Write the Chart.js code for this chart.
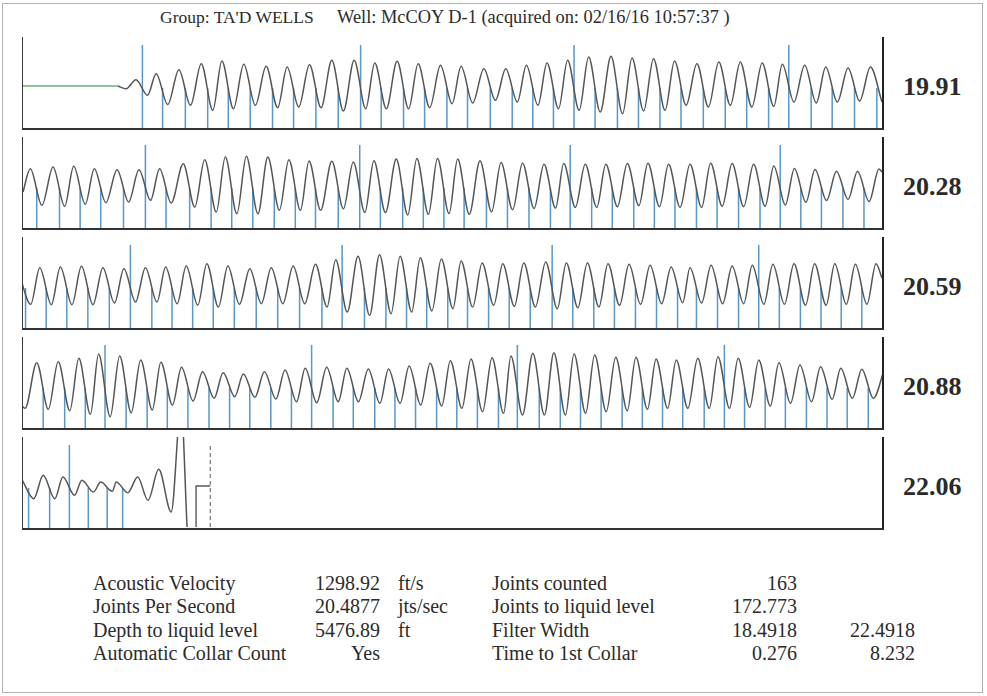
<!DOCTYPE html>
<html>
<head>
<meta charset="utf-8">
<script src="https://cdn.jsdelivr.net/npm/chart.js@4.4.1/dist/chart.umd.min.js"></script>
<style>
body { margin: 0; width: 987px; height: 696px; background: #fff; position: relative; overflow: hidden;
       font-family: "Liberation Serif", "Times New Roman", serif; color: #2b2b2b; }
.frame { position: absolute; left: 2px; top: 3px; width: 981px; height: 690px; border: 1px solid #b0b0b0; box-sizing: border-box; }
.strip { position: absolute; left: 22px; width: 859px; height: 91px;
         border-left: 1.5px solid #3a3a3a; border-right: 2.5px solid #222; border-bottom: 2.5px solid #333; }
.strip canvas { display: block; }
.rate { position: absolute; left: 903px; font-weight: bold; font-size: 26px; line-height: 30px; color: #2a2a2a; }
.head { position: absolute; top: 7px; font-size: 17.5px; line-height: 20px; white-space: pre; }
.col { position: absolute; top: 572px; font-size: 20px; line-height: 23.3px; white-space: pre; }
.r { text-align: right; }
</style>
</head>
<body>
<div class="frame"></div>
<div class="head" style="left:160px">Group: TA'D WELLS</div>
<div class="head" style="left:337px; font-size:18.4px">Well: McCOY D-1 (acquired on: 02/16/16 10:57:37 )</div>
<div id="strips"></div>

<div class="col" style="left:93px">Acoustic Velocity<br>Joints Per Second<br>Depth to liquid level<br>Automatic Collar Count</div>
<div class="col r" style="right:607px">1298.92<br>20.4877<br>5476.89<br>Yes</div>
<div class="col" style="left:398px">ft/s<br>jts/sec<br>ft<br>&nbsp;</div>
<div class="col" style="left:492px">Joints counted<br>Joints to liquid level<br>Filter Width<br>Time to 1st Collar</div>
<div class="col r" style="right:190px">163<br>172.773<br>18.4918<br>0.276</div>
<div class="col r" style="right:72px">&nbsp;<br>&nbsp;<br>22.4918<br>8.232</div>

<script>
// each strip = 2 s of the acoustic trace, collar times in seconds
const stripStart = [0, 2, 4, 6, 8];
const stripSpan = 2;
const jointsPerSec = ["19.91", "20.28", "20.59", "20.88", "22.06"];

const collars1 = [0.278, 0.325, 0.378, 0.430, 0.478, 0.529, 0.581, 0.630, 0.682, 0.734,
  0.786, 0.834, 0.886, 0.935, 0.987, 1.035, 1.088, 1.139, 1.187, 1.235, 1.283, 1.332, 1.384,
  1.433, 1.483, 1.532, 1.584, 1.635, 1.685, 1.736, 1.783, 1.835, 1.884, 1.936, 1.988];
const peaks1 = [6.3, 12.3, 16.3, 22.3, 25, 21.7, 19.7, 19, 21.3, 25.7,
  25.7, 23, 24.7, 22.3, 20.7, 19.7, 17.3, 17.3, 20.7, 23, 25.7, 29, 29.7, 28, 27.3,
  25, 22.3, 24, 24, 23, 21.7, 20.7, 19, 18, 19];
const troughs1 = [9.3, 18.5, 19.3, 24.3, 22.7, 19.3, 21.7, 21, 21.7, 25,
  22.7, 22.7, 22.7, 21.7, 17.7, 17, 14.3, 16, 19.3, 22.7, 24.3, 26, 27.7, 25, 24.3,
  19.3, 21, 19.3, 21, 20.3, 16, 17, 16, 15, 16];
const tall1 = [0, 10, 20, 30];

const collars2 = [2.032, 2.085, 2.133, 2.181, 2.234, 2.285, 2.333, 2.388, 2.438, 2.486,
  2.535, 2.585, 2.634, 2.681, 2.734, 2.784, 2.832, 2.884, 2.932, 2.980, 3.027, 3.079, 3.128,
  3.178, 3.228, 3.274, 3.324, 3.372, 3.422, 3.470, 3.518, 3.568, 3.616, 3.666, 3.716, 3.763,
  3.811, 3.859, 3.909, 3.958];
const peaks2 = [17.3, 19, 19.7, 17.3, 16.3, 16.3, 17.3, 22.3, 26.3, 29, 29.7, 29, 26.3, 25, 24.7,
  24.1, 25.2, 26.9, 27.6, 27.6, 26.9, 25.2, 23.4, 22.8, 21.7, 22.4, 21.7, 21.7, 22.4, 22.8,
  21.7, 21.7, 22.8, 22.4, 21.7, 20, 17.6, 16.6, 14.8, 14.8];
const troughs2 = [19.3, 20.3, 18.3, 16.7, 16, 14.3, 17, 21, 26, 27.7, 27.7, 24.3, 24.3, 24.3, 22.7,
  26.6, 26.6, 29, 28.3, 27.6, 28.3, 25.9, 23.8, 22.4, 22.1, 21.4, 21.4, 20.7, 19.7, 20.7,
  21.4, 21.4, 20.3, 20.7, 20.3, 19, 16.2, 14.5, 13.4, 15.5];
const tall2 = [5, 15, 25, 35];

const collars3 = [4.006, 4.054, 4.102, 4.151, 4.201, 4.250, 4.300, 4.347, 4.395, 4.443,
  4.492, 4.543, 4.593, 4.644, 4.696, 4.743, 4.795, 4.845, 4.893, 4.940, 4.989, 5.035, 5.084,
  5.132, 5.181, 5.232, 5.280, 5.329, 5.377, 5.426, 5.475, 5.524, 5.568, 5.617, 5.666, 5.713,
  5.761, 5.810, 5.858, 5.905, 5.953];
const peaks3 = [12, 18.3, 19, 19.7, 18.3, 17.3, 18.3, 19, 20, 22.3, 20, 17.3, 18.3, 20, 21.7,
  26.3, 29.7, 31.3, 29.7, 28.3, 27, 25, 23, 22.3, 23, 24, 23, 23, 22.3, 21.7, 20.7, 19,
  18.3, 20.7, 20, 20.7, 21.7, 22.3, 22.3, 22.3, 21.7];
const troughs3 = [18.3, 18.7, 18.7, 18.7, 17, 16, 16, 17.7, 19.3, 21, 18.3, 17.7, 17.7, 17.7, 21,
  26, 29.3, 27.7, 26, 25, 22.7, 21, 19.3, 20.3, 21, 22.7, 21.7, 21, 19.3, 18.3, 17.7, 16.7,
  17, 17.7, 17.7, 18.3, 18.3, 19.3, 19.3, 18.3, 18.3];
const tall3 = [5, 15, 25, 35];

const collars4 = [6.047, 6.097, 6.145, 6.191, 6.240, 6.289, 6.336, 6.384, 6.433, 6.481,
  6.528, 6.577, 6.625, 6.672, 6.722, 6.769, 6.819, 6.866, 6.914, 6.963, 7.010, 7.058, 7.107,
  7.151, 7.202, 7.251, 7.298, 7.346, 7.395, 7.442, 7.489, 7.536, 7.586, 7.633, 7.680, 7.728,
  7.775, 7.824, 7.872, 7.919, 7.968];
const peaks4 = [23.3, 24.3, 27.7, 32, 30, 26, 23.7, 18.7, 14.3, 13.3, 12, 14.3, 16, 17.7, 18.7,
  17.7, 17, 17, 20, 22.7, 25.3, 27, 28.3, 30, 32.7, 33.3, 32, 31, 28.7, 28.7, 27, 26, 27.7,
  29.3, 27.7, 26, 23.3, 21, 19.3, 17.7, 16.7];
const troughs4 = [23.3, 24.7, 28.3, 30.7, 26.7, 24, 19, 15, 12.3, 10.7, 11.3, 13, 15.7, 16.7, 15.7,
  15.7, 17.3, 17.3, 19, 20, 22.3, 25.7, 27.3, 29, 29, 29, 27.3, 25.7, 24.7, 23.3, 22.3, 22.3,
  22.3, 22.3, 21.3, 20, 17.3, 15.7, 13.3, 12.3, 12.3];
const tall4 = [3, 13, 23, 33];

const collars5 = [8.013, 8.062, 8.108, 8.152, 8.196, 8.232];
const peaks5 = [6, 10.7, 9, 5.7, 4, 4];
const troughs5 = [12.7, 12.7, 9.3, 6, 5.3, 6.7];
const tall5 = [2];

// irregular bits at the strip edges: [time, amplitude]
const idleStart = [[0, 0], [0.221, 0]];
const lead1 = [[0.221, 0], [0.240, -2.7]];
const lead2 = [[2.0, -6]];
const tail2 = [[3.993, 17], [4.0, 14]];
const tail3 = [[5.986, 22.3], [6.0, 8]];
const lead4 = [[5.99, -15], [6.005, -22.3]];
const tail4 = [[8.005, 16]];
const tail5 = [[8.267, 9], [8.291, -14.3], [8.316, 16.7], [8.345, -26], [8.368, 80], [8.382, -41]];
const liquidStep = [[8.403, -41], [8.403, 0], [8.436, 0]];
const liquidLevel = 8.436;

const strips = [
  { collars: collars1, peaks: peaks1, troughs: troughs1, tall: tall1, lead: lead1, tail: [] },
  { collars: collars2, peaks: peaks2, troughs: troughs2, tall: tall2, lead: lead2, tail: tail2 },
  { collars: collars3, peaks: peaks3, troughs: troughs3, tall: tall3, lead: [], tail: tail3 },
  { collars: collars4, peaks: peaks4, troughs: troughs4, tall: tall4, lead: lead4, tail: tail4 },
  { collars: collars5, peaks: peaks5, troughs: troughs5, tall: tall5, lead: [], tail: tail5 }
];

const peakLead = 0.015, troughLag = 0.012;
const toPts = arr => arr.map(p => ({ x: p[0], y: p[1] }));

function wavePoints(s) {
  const pts = toPts(s.lead);
  s.collars.forEach((c, i) => {
    pts.push({ x: c - peakLead, y: s.peaks[i] });
    pts.push({ x: c + troughLag, y: -s.troughs[i] });
  });
  return pts.concat(toPts(s.tail));
}

function markerPoints(s) {
  const pts = [];
  s.collars.forEach((c, i) => {
    pts.push({ x: c, y: -46 }, { x: c, y: s.tall.includes(i) ? 41 : -2 }, { x: c, y: null });
  });
  return pts;
}

document.addEventListener("DOMContentLoaded", function () {
  const holder = document.getElementById("strips");

  strips.forEach(function (s, k) {
    const box = document.createElement("div");
    box.className = "strip";
    box.style.top = (37 + k * 100) + "px";
    const cv = document.createElement("canvas");
    cv.width = 859; cv.height = 91;
    box.appendChild(cv);
    holder.appendChild(box);

    const rate = document.createElement("div");
    rate.className = "rate";
    rate.style.top = (72 + k * 100) + "px";
    rate.textContent = jointsPerSec[k];
    document.body.appendChild(rate);

    const datasets = [{
      data: wavePoints(s),
      borderColor: "#555",
      borderWidth: 1.5,
      cubicInterpolationMode: "monotone",
      pointRadius: 0
    }, {
      data: markerPoints(s),
      borderColor: "#5898cb",
      borderWidth: 1.5,
      tension: 0,
      pointRadius: 0,
      spanGaps: false
    }];

    if (k === 0) {
      datasets.push({ data: toPts(idleStart), borderColor: "#6fae74", borderWidth: 1.4, pointRadius: 0 });
    }
    if (k === 4) {
      datasets.push({ data: toPts(liquidStep), borderColor: "#5a5a5a", borderWidth: 1.4, tension: 0, pointRadius: 0 });
      datasets.push({
        data: [{ x: liquidLevel, y: 40 }, { x: liquidLevel, y: -46 }],
        borderColor: "#777", borderWidth: 1.2, borderDash: [4, 3], pointRadius: 0
      });
    }

    new Chart(cv, {
      type: "line",
      data: { datasets: datasets },
      options: {
        responsive: false,
        animation: false,
        events: [],
        layout: { padding: 0 },
        plugins: { legend: { display: false }, tooltip: { enabled: false } },
        scales: {
          x: { type: "linear", min: stripStart[k], max: stripStart[k] + stripSpan, display: false },
          y: { min: -42, max: 49, display: false }
        }
      }
    });
  });
});
</script>
</body>
</html>
